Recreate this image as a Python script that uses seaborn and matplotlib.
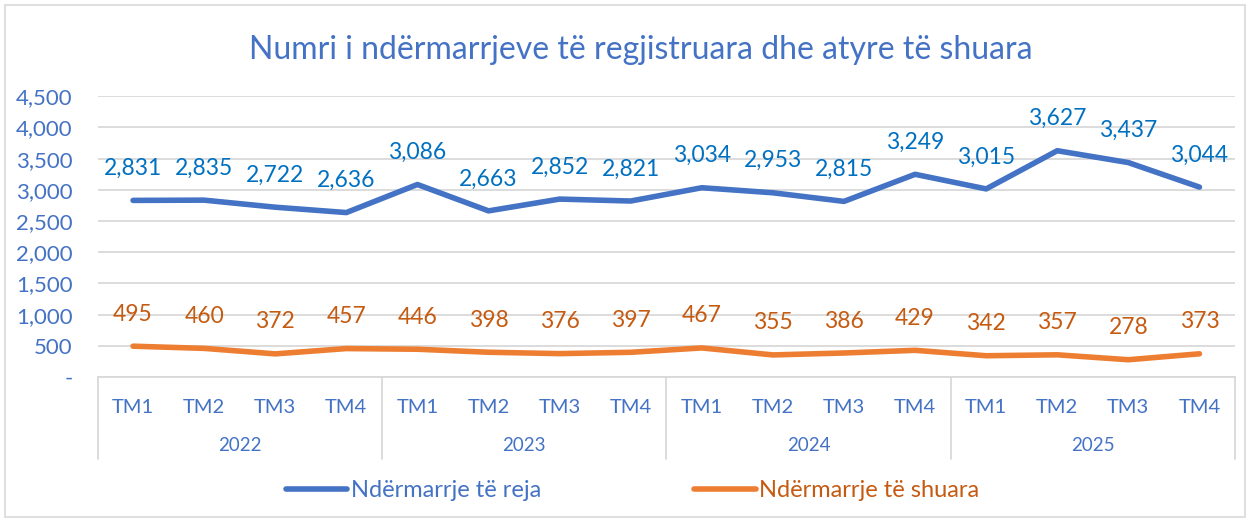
import numpy as np
import pandas as pd
import seaborn as sns
import matplotlib.pyplot as plt
import matplotlib.transforms as mtransforms
from matplotlib.lines import Line2D

# data
years = ["2022", "2023", "2024", "2025"]
quarters = ["TM1", "TM2", "TM3", "TM4"]
te_reja = [2831, 2835, 2722, 2636, 3086, 2663, 2852, 2821,
           3034, 2953, 2815, 3249, 3015, 3627, 3437, 3044]
te_shuara = [495, 460, 372, 457, 446, 398, 376, 397,
             467, 355, 386, 429, 342, 357, 278, 373]

blue_line = "#4472C4"
blue_lbl = "#0070C0"
orange_line = "#ED7D31"
orange_lbl = "#C55A11"
grid_c = "#D9D9D9"

sns.set_theme(style="white")
plt.rcParams["font.family"] = ["Lato", "DejaVu Sans"]

n = len(te_reja)
df = pd.DataFrame({
    "idx": list(range(n)) * 2,
    "vlera": te_reja + te_shuara,
    "seria": ["Ndërmarrje të reja"] * n + ["Ndërmarrje të shuara"] * n,
})

fig = plt.figure(figsize=(12.5, 5.23), dpi=100)
ax = fig.add_axes([0.078, 0.279, 0.910, 0.537])

sns.lineplot(data=df, x="idx", y="vlera", hue="seria",
             palette=[blue_line, orange_line], linewidth=4,
             legend=False, ax=ax, solid_capstyle="round")

ax.set_xlim(-0.5, n - 0.5)
ax.set_ylim(0, 4500)
ax.set_yticks(np.arange(0, 4501, 500))
ax.set_yticklabels(["-"] + [f"{v:,}" for v in range(500, 4501, 500)],
                   color=blue_line, fontsize=16)
ax.yaxis.grid(True, color=grid_c, linewidth=1.3)
ax.set_axisbelow(True)
for s in ["left", "right", "top"]:
    ax.spines[s].set_visible(False)
ax.spines["bottom"].set_color(grid_c)
ax.spines["bottom"].set_linewidth(1.3)
ax.tick_params(axis="y", length=0, pad=18)
ax.set_xlabel("")
ax.set_ylabel("")

ax.set_xticks(range(n))
ax.set_xticklabels(quarters * len(years), color=blue_line, fontsize=14.5)
ax.tick_params(axis="x", length=0, pad=16)

# year row and separators
trans = mtransforms.blended_transform_factory(ax.transData, ax.transAxes)
for i, y in enumerate(years):
    ax.text(i * 4 + 1.5, -0.245, y, transform=trans, ha="center", va="center",
            color=blue_line, fontsize=13.5)
for i in range(len(years) + 1):
    ax.plot([i * 4 - 0.5] * 2, [0, -0.29], transform=trans, color=grid_c,
            linewidth=1.3, clip_on=False)

# data labels
for i in range(n):
    ax.annotate(f"{te_reja[i]:,}", (i, te_reja[i]), xytext=(0, 23),
                textcoords="offset points", ha="center", va="center",
                color=blue_lbl, fontsize=16.5)
    ax.annotate(f"{te_shuara[i]:,}", (i, te_shuara[i]), xytext=(0, 23),
                textcoords="offset points", ha="center", va="center",
                color=orange_lbl, fontsize=16.5)

fig.text(0.513, 0.905, "Numri i ndërmarrjeve të regjistruara dhe atyre të shuara",
         ha="center", va="center", color=blue_line, fontsize=23)

# legend
handles = [Line2D([], [], color=blue_line, linewidth=4, solid_capstyle="round"),
           Line2D([], [], color=orange_line, linewidth=4, solid_capstyle="round")]
fig.legend(handles, ["Ndërmarrje të reja", "Ndërmarrje të shuara"],
           loc="center", bbox_to_anchor=(0.506, 0.062), ncol=2, frameon=False,
           fontsize=17, handlelength=2.6, handletextpad=0.15, columnspacing=6.5,
           labelcolor=[blue_line, orange_lbl])

# chart border
fig.add_artist(plt.Rectangle((0.004, 0.012), 0.992, 0.978, transform=fig.transFigure,
                             fill=False, edgecolor=grid_c, linewidth=1.2))

fig.savefig("out.png", dpi=100)
